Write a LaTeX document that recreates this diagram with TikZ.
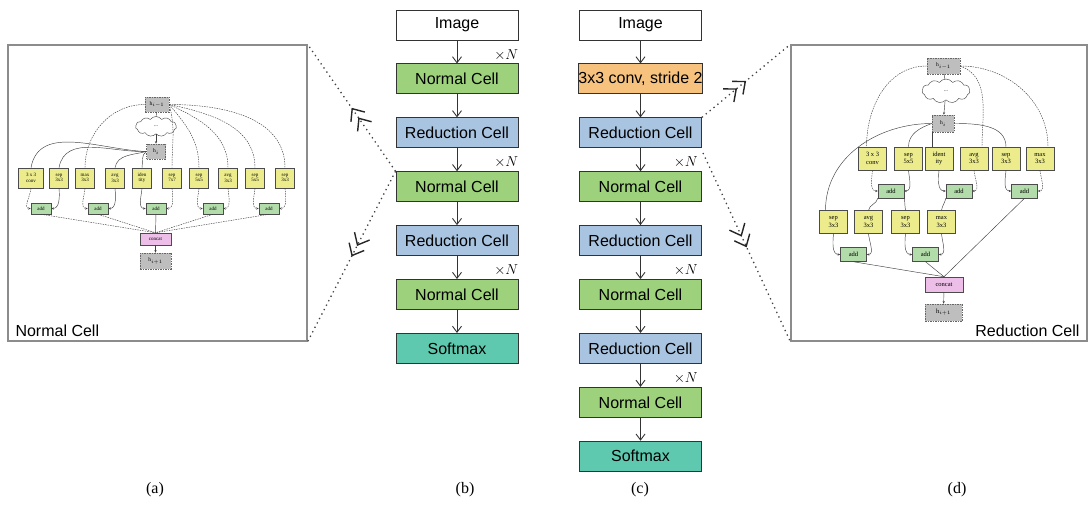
\documentclass[tikz,border=0pt]{standalone}
\usepackage{fontspec}
\setmainfont{Liberation Serif}
\setsansfont{Liberation Sans}
\usetikzlibrary{positioning,arrows.meta,shapes.symbols,decorations.markings}

\definecolor{normgreen}{RGB}{157,209,123}
\definecolor{redblue}{RGB}{168,196,224}
\definecolor{smteal}{RGB}{94,201,174}
\definecolor{convorange}{RGB}{246,194,126}
\definecolor{opyellow}{RGB}{236,236,140}
\definecolor{addgreen}{RGB}{178,220,170}
\definecolor{catpink}{RGB}{236,190,232}
\definecolor{hgray}{RGB}{190,190,190}
\definecolor{framegray}{RGB}{140,140,140}

\begin{document}
\begin{tikzpicture}[x=1pt,y=-1pt,
    node distance=23pt,
    blk/.style={draw=black!80,line width=0.9pt,minimum width=122pt,minimum height=30pt,
      inner sep=0pt,font=\sffamily\fontsize{16}{18}\selectfont},
    flow/.style={draw=black!80,line width=0.9pt,-{Straight Barb[length=6pt,width=9pt]}},
    xn/.style={inner sep=0pt,font=\fontsize{15}{16}\selectfont},
    zoomline/.style={draw=black!75,line width=1.3pt,dash pattern=on 1.3pt off 3.7pt,
      postaction={decorate,solid},
      decoration={markings,mark=at position 0.5 with
        {\arrow[draw=black!85,line width=1.4pt]{Straight Barb[length=10pt,width=17pt] Straight Barb[length=10pt,width=17pt]}}}},
    panel/.style={draw=framegray,line width=1.3pt,inner sep=0pt},
    captxt/.style={font=\fontsize{16}{18}\selectfont},
    mini/.style={draw=black!75,line width=0.45pt},
    marr/.style={-{Stealth[length=2.6pt,width=2.2pt]}},
    mdash/.style={dash pattern=on 1.5pt off 1pt},
    msolid/.style={},
    op/.style={draw=black!70,fill=opyellow,line width=0.5pt,minimum width=19pt,minimum height=20pt,
      inner sep=0pt,align=center,font=\fontsize{5}{5.5}\selectfont},
    addop/.style={draw=black!70,fill=addgreen,line width=0.5pt,minimum width=20pt,minimum height=11pt,
      inner sep=0pt,font=\fontsize{5}{5.5}\selectfont},
    catop/.style={addop,fill=catpink},
    hbox/.style={draw=black!60,mdash,line width=0.5pt,fill=hgray,inner sep=0pt,font=\fontsize{5.5}{6}\selectfont},
    blob/.style={cloud,cloud puffs=11,cloud puff arc=110,aspect=2,draw=black!70,line width=0.45pt,
      fill=white,inner sep=0pt,font=\fontsize{5.5}{6}\selectfont},
    big/.style={minimum width=28pt,minimum height=23pt,font=\fontsize{6.5}{7.5}\selectfont},
    bigadd/.style={minimum width=26pt,minimum height=14pt,font=\fontsize{6.5}{7.5}\selectfont}
  ]
\useasboundingbox (0,0) rectangle (1090,505);

% column (b)
\node[blk] (b1) at (457,25) {Image};
\node[blk,fill=normgreen,below=of b1] (b2) {Normal Cell};
\node[blk,fill=redblue,below=of b2] (b3) {Reduction Cell};
\node[blk,fill=normgreen,below=of b3] (b4) {Normal Cell};
\node[blk,fill=redblue,below=of b4] (b5) {Reduction Cell};
\node[blk,fill=normgreen,below=of b5] (b6) {Normal Cell};
\node[blk,fill=smteal,below=of b6] (b7) {Softmax};
\foreach \i [count=\j from 2] in {1,...,6}
  \draw[flow] (b\i) -- (b\j);
\foreach \i in {2,4,6}
  \node[xn,above left=3pt and 0pt of b\i.north east] (xb\i) {$\times N$};

% column (c)
\node[blk] (c1) at (640.5,25) {Image};
\node[blk,fill=convorange,below=of c1] (c2) {3x3 conv, stride 2};
\node[blk,fill=redblue,below=of c2] (c3) {Reduction Cell};
\node[blk,fill=normgreen,below=of c3] (c4) {Normal Cell};
\node[blk,fill=redblue,below=of c4] (c5) {Reduction Cell};
\node[blk,fill=normgreen,below=of c5] (c6) {Normal Cell};
\node[blk,fill=redblue,below=of c6] (c7) {Reduction Cell};
\node[blk,fill=normgreen,below=of c7] (c8) {Normal Cell};
\node[blk,fill=smteal,below=of c8] (c9) {Softmax};
\foreach \i [count=\j from 2] in {1,...,8}
  \draw[flow] (c\i) -- (c\j);
\foreach \i in {4,6,8}
  \node[xn,above left=3pt and 4pt of c\i.north east] (xc\i) {$\times N$};

% panels
\node[panel,minimum width=299pt,minimum height=296pt] (pa) at (157.5,193) {};
\node[panel,minimum width=296pt,minimum height=296pt] (pd) at (939,193) {};
\node[anchor=base west,font=\sffamily\fontsize{16}{18}\selectfont] (pal) at (12,336) {Normal Cell};
\node[anchor=base east,font=\sffamily\fontsize{16}{18}\selectfont] (pdl) at (1083,336) {Reduction Cell};

\coordinate (cz) at (703,153);
\draw[zoomline] (b4.north west) -- (pa.north east);
\draw[zoomline] (b4.north west) -- (pa.south east);
\draw[zoomline] (c3.north east) -- (pd.north west);
\draw[zoomline] (cz) -- (pd.south west);

% normal cell
\node[hbox,minimum width=24pt,minimum height=15pt] (am) at (157,104.5) {$\mathrm{h}_{i-1}$};
\node[blob,minimum width=41pt,minimum height=20pt] (acl) at (156,126.5) {...};
\node[hbox,minimum width=19pt,minimum height=15pt] (ai) at (156,151.5) {$\mathrm{h}_{i}$};
\foreach \x/\w/\t [count=\k] in {31/25/{3 x 3\\conv},59/19/{sep\\3x3},85/19/{max\\3x3},
    115/19/{avg\\3x3},142/19/{iden\\tity},172/19/{sep\\7x7},199/19/{sep\\5x5},
    228/19/{avg\\3x3},255/19/{sep\\5x5},285/19/{sep\\3x3}}
  \node[op,minimum width=\w pt] (ao\k) at (\x,178) {\t};
\foreach \x [count=\k] in {41,98,156,213,269}
  \node[addop] (aa\k) at (\x,208.5) {add};
\node[catop,minimum width=31pt,minimum height=12pt] (acat) at (155.5,239) {concat};
\node[hbox,minimum width=31pt,minimum height=16pt] (ahp) at (155.5,261) {$\mathrm{h}_{i+1}$};

\draw[mini] (am) -- (acl);
\draw[mini,marr] (acl) -- (ai);
\draw[mini,mdash] (am.west) to[out=180,in=90] (ao3.north);
\foreach \k/\o in {6/-75,7/-50,8/-25,9/-12,10/0}
  \draw[mini,mdash] (am.east) to[out=\o,in=90] (ao\k.north);
\foreach \k/\o in {1/178,2/182,4/195,5/215}
  \draw[mini] (ai.west) to[out=\o,in=80] (ao\k.north);
\foreach \k/\a/\s in {1/1/mdash,3/2/mdash,5/3/msolid,7/4/mdash,9/5/mdash}
  \draw[mini,marr,\s] (ao\k.south) to[out=-95,in=180] (aa\a.west);
\foreach \k/\a/\s in {2/1/msolid,4/2/msolid,6/3/mdash,8/4/mdash,10/5/mdash}
  \draw[mini,marr,\s] (ao\k.south) to[out=-85,in=0] (aa\a.east);
\foreach \a in {1,2,4,5}
  \draw[mini,mdash] (aa\a.south) -- (acat.north);
\draw[mini] (aa3) -- (acat);
\draw[mini,marr] (acat) -- (ahp);

% reduction cell
\node[hbox,minimum width=33pt,minimum height=16pt] (dm) at (943.5,66) {$\mathrm{h}_{i-1}$};
\node[blob,minimum width=48pt,minimum height=24pt] (dcl) at (946,91) {...};
\node[hbox,minimum width=22pt,minimum height=17pt] (di) at (943,123.5) {$\mathrm{h}_{i}$};
\foreach \x/\t [count=\k] in {872.5/{3 x 3\\conv},908.5/{sep\\5x5},939/{ident\\ity},
    974/{avg\\3x3},1006/{sep\\3x3},1040/{max\\3x3}}
  \node[op,big] (do\k) at (\x,158.5) {\t};
\foreach \x [count=\k] in {891,959,1024.5}
  \node[addop,bigadd] (ds\k) at (\x,191) {add};
\foreach \x/\t [count=\k] in {833.5/{sep\\3x3},868.5/{avg\\3x3},905.5/{sep\\3x3},941.5/{max\\3x3}}
  \node[op,big] (dr\k) at (\x,222) {\t};
\foreach \x [count=\k] in {853.5,925.5}
  \node[addop,bigadd] (dt\k) at (\x,254.5) {add};
\node[catop,bigadd,minimum width=38pt,minimum height=15pt] (dcat) at (944,284.5) {concat};
\node[hbox,minimum width=37pt,minimum height=17pt,font=\fontsize{6.5}{7.5}\selectfont] (dhp) at (943.5,312.5) {$\mathrm{h}_{i+1}$};

\draw[mini] (dm) -- (dcl);
\draw[mini,marr] (dcl) -- (di);
\draw[mini,mdash] (dm.west) to[out=180,in=90] ([xshift=-6pt]do1.north);
\draw[mini,mdash] (dm.east) to[out=-20,in=90] ([xshift=8pt]do4.north);
\draw[mini,mdash] (dm.east) to[out=0,in=90] ([xshift=8pt]do6.north);
\draw[mini] (di.west) to[out=180,in=90] ([xshift=-8pt]dr1.north);
\draw[mini] (di.west) to[out=200,in=90] (do2.north);
\draw[mini] (di.south west) -- (di.south west |- do3.north);
\draw[mini] (di.east) to[out=0,in=90] (do5.north);
\draw[mini,marr,mdash] (do1.south) to[out=-95,in=180] (ds1.west);
\draw[mini,marr] (do2.south) to[out=-85,in=0] (ds1.east);
\draw[mini,marr] (do3.south) to[out=-95,in=180] (ds2.west);
\draw[mini,marr,mdash] (do4.south) to[out=-85,in=0] (ds2.east);
\draw[mini,marr] (do5.south) to[out=-95,in=180] (ds3.west);
\draw[mini,marr,mdash] (do6.south) to[out=-85,in=0] (ds3.east);
\draw[mini] (ds1.south west) to[out=-100,in=80] (dr2.north);
\draw[mini] (ds1.south east) to[out=-80,in=100] (dr3.north);
\draw[mini] (ds2.south west) to[out=-100,in=80] (dr4.north);
\draw[mini,marr] (dr1.south) to[out=-95,in=180] (dt1.west);
\draw[mini,marr] (dr2.south) to[out=-85,in=0] (dt1.east);
\draw[mini,marr] (dr3.south) to[out=-95,in=180] (dt2.west);
\draw[mini,marr] (dr4.south) to[out=-85,in=0] (dt2.east);
\foreach \n in {dt1,dt2,ds3}
  \draw[mini] (\n.south) -- (dcat.north);
\draw[mini,marr] (dcat) -- (dhp);

% captions
\node[captxt] (capa) at (155,490) {(a)};
\node[captxt] (capb) at (465,490) {(b)};
\node[captxt] (capc) at (640,490) {(c)};
\node[captxt] (capd) at (957,490) {(d)};
\end{tikzpicture}
\end{document}
